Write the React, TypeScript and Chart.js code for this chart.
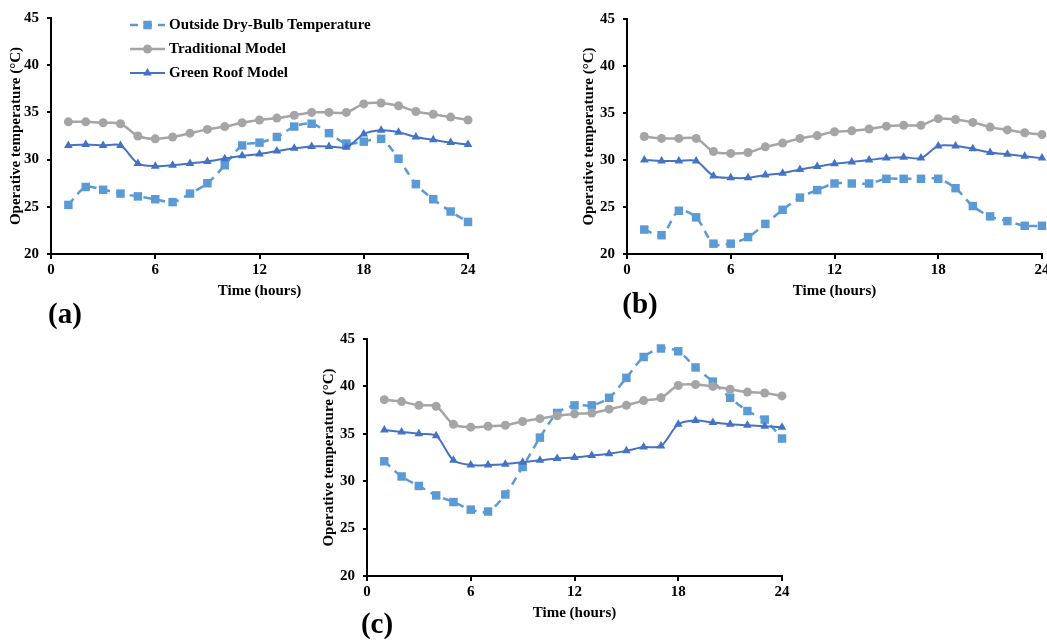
import React, { useEffect, useRef } from "react";
import { Chart, registerables } from "chart.js";

Chart.register(...registerables);

const hours = [1, 2, 3, 4, 5, 6, 7, 8, 9, 10, 11, 12, 13, 14, 15, 16, 17, 18, 19, 20, 21, 22, 23, 24];
const xTicks = [0, 6, 12, 18, 24];
const yTicks = [20, 25, 30, 35, 40, 45];
const seriesNames = ["Outside Dry-Bulb Temperature", "Traditional Model", "Green Roof Model"];
const panelLabels = ["(a)", "(b)", "(c)"];
const xTitle = "Time (hours)";
const yTitle = "Operative temperature (°C)";

// Panel (a)
const outsideA = [25.2, 27.1, 26.8, 26.4, 26.1, 25.8, 25.5, 26.4, 27.5, 29.4, 31.5, 31.8, 32.4, 33.5, 33.8, 32.8, 31.7, 31.9, 32.2, 30.1, 27.4, 25.8, 24.5, 23.4];
const traditionalA = [34.0, 34.0, 33.9, 33.8, 32.5, 32.2, 32.4, 32.8, 33.2, 33.5, 33.9, 34.2, 34.4, 34.7, 35.0, 35.0, 35.0, 35.9, 36.0, 35.7, 35.1, 34.8, 34.5, 34.2];
const greenA = [31.5, 31.6, 31.5, 31.5, 29.6, 29.3, 29.4, 29.6, 29.8, 30.1, 30.4, 30.6, 30.9, 31.2, 31.4, 31.4, 31.3, 32.7, 33.1, 32.9, 32.4, 32.1, 31.8, 31.6];

// Panel (b)
const outsideB = [22.6, 22.0, 24.6, 23.9, 21.1, 21.1, 21.8, 23.2, 24.7, 26.0, 26.8, 27.5, 27.5, 27.5, 28.0, 28.0, 28.0, 28.0, 27.0, 25.1, 24.0, 23.5, 23.0, 23.0];
const traditionalB = [32.5, 32.3, 32.3, 32.3, 30.9, 30.7, 30.8, 31.4, 31.8, 32.3, 32.6, 33.0, 33.1, 33.3, 33.6, 33.7, 33.7, 34.4, 34.3, 34.0, 33.5, 33.2, 32.9, 32.7];
const greenB = [30.0, 29.9, 29.9, 29.9, 28.3, 28.1, 28.1, 28.4, 28.6, 29.0, 29.3, 29.6, 29.8, 30.0, 30.2, 30.3, 30.2, 31.5, 31.5, 31.2, 30.8, 30.6, 30.4, 30.2];

// Panel (c)
const outsideC = [32.1, 30.5, 29.5, 28.5, 27.8, 27.0, 26.8, 28.6, 31.5, 34.6, 37.2, 38.0, 38.0, 38.8, 40.9, 43.1, 44.0, 43.7, 42.0, 40.5, 38.8, 37.4, 36.5, 34.5];
const traditionalC = [38.6, 38.4, 38.0, 37.9, 36.0, 35.7, 35.8, 35.9, 36.3, 36.6, 36.9, 37.1, 37.2, 37.6, 38.0, 38.5, 38.8, 40.1, 40.2, 40.0, 39.7, 39.4, 39.3, 39.0];
const greenC = [35.4, 35.2, 35.0, 34.8, 32.2, 31.7, 31.7, 31.8, 32.0, 32.2, 32.4, 32.5, 32.7, 32.9, 33.2, 33.6, 33.7, 36.0, 36.4, 36.2, 36.0, 35.9, 35.8, 35.7];

const FONT = '"Liberation Serif", "Times New Roman", serif';
const C_OUT = "#5B9BD5";
const C_TRAD = "#A5A5A5";
const C_GREEN = "#4472C4";

const styles = [
  { color: C_OUT, width: 2.5, dash: [8, 6], point: "rect", radius: 6 },
  { color: C_TRAD, width: 2.5, dash: [], point: "circle", radius: 4.5 },
  { color: C_GREEN, width: 2, dash: [], point: "triangle", radius: 5 },
];

type PanelCfg = {
  left: number; top: number; width: number; height: number;
  padTop: number; padRight: number; yTitlePad: number;
  series: number[][]; legend: boolean;
};

const panels: PanelCfg[] = [
  { left: 0, top: 0, width: 485, height: 300, padTop: 18, padRight: 17, yTitlePad: 7, series: [outsideA, traditionalA, greenA], legend: true },
  { left: 576, top: 0, width: 485, height: 300, padTop: 19, padRight: 19, yTitlePad: 4, series: [outsideB, traditionalB, greenB], legend: false },
  { left: 316, top: 320, width: 485, height: 302, padTop: 19, padRight: 19, yTitlePad: 4, series: [outsideC, traditionalC, greenC], legend: false },
];

const labelPos = [
  { x: 65, y: 313 },
  { x: 640, y: 303 },
  { x: 377, y: 623 },
];

function drawMarker(ctx: CanvasRenderingContext2D, kind: string, x: number, y: number, r: number, color: string) {
  ctx.fillStyle = color;
  ctx.beginPath();
  if (kind === "rect") {
    const s = r * Math.SQRT1_2;
    ctx.rect(x - s, y - s, 2 * s, 2 * s);
  } else if (kind === "circle") {
    ctx.arc(x, y, r, 0, Math.PI * 2);
  } else {
    const h = r;
    ctx.moveTo(x, y - h);
    ctx.lineTo(x + h * Math.sin(Math.PI / 3), y + h * 0.5);
    ctx.lineTo(x - h * Math.sin(Math.PI / 3), y + h * 0.5);
    ctx.closePath();
  }
  ctx.fill();
}

const legendPlugin = {
  id: "insideLegend",
  afterDraw(chart: any) {
    const ctx: CanvasRenderingContext2D = chart.ctx;
    const rows = [25, 49, 73];
    ctx.save();
    seriesNames.forEach((name, i) => {
      const st = styles[i];
      const y = rows[i];
      ctx.strokeStyle = st.color;
      ctx.lineWidth = st.width;
      ctx.setLineDash(st.dash);
      ctx.beginPath();
      ctx.moveTo(130, y);
      ctx.lineTo(165, y);
      ctx.stroke();
      ctx.setLineDash([]);
      drawMarker(ctx, st.point, 147.5, y, st.radius, st.color);
      ctx.fillStyle = "#000";
      ctx.font = `bold 15px ${FONT}`;
      ctx.textBaseline = "middle";
      ctx.textAlign = "left";
      ctx.fillText(name, 169, y);
    });
    ctx.restore();
  },
};

function Panel({ cfg }: { cfg: PanelCfg }) {
  const ref = useRef<HTMLCanvasElement | null>(null);
  useEffect(() => {
    if (!ref.current) return;
    const datasets = cfg.series.map((vals, i) => ({
      label: seriesNames[i],
      data: hours.map((h, j) => ({ x: h, y: vals[j] })),
      borderColor: styles[i].color,
      backgroundColor: styles[i].color,
      borderWidth: styles[i].width,
      borderDash: styles[i].dash,
      pointStyle: styles[i].point,
      pointRadius: styles[i].radius,
      pointBorderWidth: 0,
      pointBackgroundColor: styles[i].color,
      tension: 0.3,
      clip: false,
      order: i === 0 ? 3 : i === 1 ? 2 : 1,
    }));
    const chart = new Chart(ref.current, {
      type: "line",
      data: { datasets },
      plugins: cfg.legend ? [legendPlugin] : [],
      options: {
        animation: false,
        responsive: false,
        devicePixelRatio: 1,
        layout: { padding: { top: cfg.padTop, right: cfg.padRight, left: 0, bottom: 0 } },
        plugins: { legend: { display: false }, tooltip: { enabled: false } },
        scales: {
          x: {
            type: "linear",
            min: 0,
            max: 24,
            afterBuildTicks: (s: any) => { s.ticks = xTicks.map((v) => ({ value: v })); },
            afterFit: (s: any) => { s.height = 46; },
            grid: { display: true, drawOnChartArea: false, drawTicks: true, tickLength: 5, color: "#000", lineWidth: 2 },
            border: { display: true, color: "#000", width: 2 },
            ticks: { color: "#000", padding: 2, maxRotation: 0, font: { family: FONT, size: 15, weight: "bold" } },
            title: { display: true, text: xTitle, color: "#000", padding: { top: 4, bottom: 0 }, font: { family: FONT, size: 15, weight: "bold" } },
          },
          y: {
            type: "linear",
            min: 20,
            max: 45,
            afterBuildTicks: (s: any) => { s.ticks = yTicks.map((v) => ({ value: v })); },
            afterFit: (s: any) => { s.width = 51; },
            grid: { display: true, drawOnChartArea: false, drawTicks: true, tickLength: 4, color: "#000", lineWidth: 2 },
            border: { display: true, color: "#000", width: 2 },
            ticks: { color: "#000", padding: 8, font: { family: FONT, size: 15, weight: "bold" } },
            title: { display: true, text: yTitle, color: "#000", padding: { top: cfg.yTitlePad, bottom: 0 }, font: { family: FONT, size: 15, weight: "bold" } },
          },
        },
      },
    } as any);
    return () => chart.destroy();
  }, []);
  return (
    <canvas
      ref={ref}
      width={cfg.width}
      height={cfg.height}
      style={{ position: "absolute", left: cfg.left, top: cfg.top, width: cfg.width, height: cfg.height }}
    />
  );
}

export default function App() {
  return (
    <div style={{ position: "fixed", left: 0, top: 0, width: 1047, height: 641, overflow: "hidden", background: "#fff" }}>
      {panels.map((p, i) => (
        <Panel key={i} cfg={p} />
      ))}
      {panelLabels.map((t, i) => (
        <div
          key={t}
          style={{
            position: "absolute",
            left: labelPos[i].x - 30,
            top: labelPos[i].y - 18,
            width: 60,
            height: 36,
            lineHeight: "36px",
            textAlign: "center",
            fontFamily: FONT,
            fontWeight: "bold",
            fontSize: 29,
            color: "#000",
          }}
        >
          {t}
        </div>
      ))}
    </div>
  );
}
